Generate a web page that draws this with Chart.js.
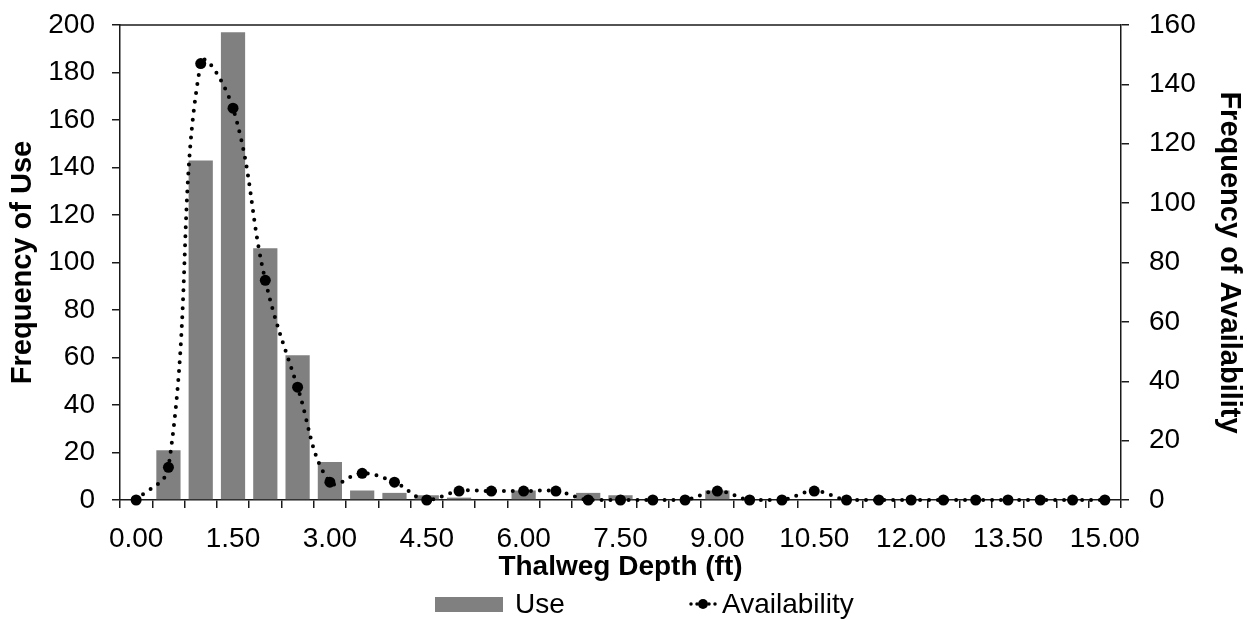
<!DOCTYPE html>
<html>
<head>
<meta charset="utf-8">
<script src="https://cdn.jsdelivr.net/npm/chart.js@4.4.1/dist/chart.umd.min.js"></script>
<style>
  html, body { margin: 0; padding: 0; background: #fff; }
</style>
</head>
<body>
<canvas id="depthChart" width="1252" height="619"></canvas>
<script>
const depthLabels = ['0.00', '0.50', '1.00', '1.50', '2.00', '2.50', '3.00', '3.50', '4.00', '4.50',
    '5.00', '5.50', '6.00', '6.50', '7.00', '7.50', '8.00', '8.50', '9.00', '9.50',
    '10.00', '10.50', '11.00', '11.50', '12.00', '12.50', '13.00', '13.50', '14.00', '14.50', '15.00'];

const useFreq = [0, 21, 143, 197, 106, 61, 16, 4, 3, 2,
    1, 0, 4, 0, 3, 2, 0, 0, 4, 0,
    0, 0, 0, 0, 0, 0, 0, 0, 0, 0, 0];

const availFreq = [0, 11, 147, 132, 74, 38, 6, 9, 6, 0,
    3, 3, 3, 3, 0, 0, 0, 0, 3, 0,
    0, 3, 0, 0, 0, 0, 0, 0, 0, 0, 0];

const useTicks = [0, 20, 40, 60, 80, 100, 120, 140, 160, 180, 200];
const availTicks = [0, 20, 40, 60, 80, 100, 120, 140, 160];

Chart.defaults.font.family = "'Liberation Sans', Arial, sans-serif";
Chart.defaults.color = '#000';

const axisColor = '#1a1a1a';

// top border of the plot area + hand drawn legend (line sample with a dot)
const frameAndLegend = {
    id: 'frameAndLegend',
    afterDraw(chart) {
        const { ctx, chartArea } = chart;
        ctx.save();
        ctx.strokeStyle = axisColor;
        ctx.lineWidth = 1.5;
        ctx.beginPath();
        ctx.moveTo(chartArea.left, chartArea.top);
        ctx.lineTo(chartArea.right, chartArea.top);
        ctx.stroke();

        const ly = 604;
        const useSet = chart.data.datasets[1];
        const availSet = chart.data.datasets[0];
        ctx.font = "28px 'Liberation Sans', Arial, sans-serif";
        ctx.textBaseline = 'middle';
        ctx.fillStyle = useSet.backgroundColor;
        ctx.fillRect(435, ly - 7, 68, 15);
        ctx.fillStyle = '#000';
        ctx.fillText(useSet.label, 515, ly + 1);

        ctx.strokeStyle = '#000';
        ctx.lineWidth = 3.5;
        ctx.lineCap = 'round';
        ctx.setLineDash([0, 6]);
        ctx.beginPath();
        ctx.moveTo(691, ly);
        ctx.lineTo(718, ly);
        ctx.stroke();
        ctx.setLineDash([]);
        ctx.beginPath();
        ctx.arc(703, ly, 5, 0, Math.PI * 2);
        ctx.fill();
        ctx.fillText(availSet.label, 722, ly + 1);
        ctx.restore();
    }
};

// fixed axis sizes so the plot area lands where the original has it
function fixWidth(w) {
    return (s) => {
        s.width = w;
        s.paddingTop = 0;
        s.paddingBottom = 0;
    };
}

const canvas = document.getElementById('depthChart');

const depthChart = new Chart(canvas, {
    type: 'bar',
    data: {
        labels: depthLabels,
        datasets: [{
            type: 'line',
            label: 'Availability',
            data: availFreq,
            yAxisID: 'yAvail',
            borderColor: '#000',
            borderWidth: 4,
            borderDash: [0, 9],
            borderCapStyle: 'round',
            tension: 0.4,
            pointRadius: 5.5,
            pointBackgroundColor: '#000',
            pointBorderWidth: 0,
            clip: false,
            order: 0
        }, {
            label: 'Use',
            data: useFreq,
            yAxisID: 'yUse',
            backgroundColor: '#808080',
            categoryPercentage: 1,
            barPercentage: 0.75,
            order: 1
        }]
    },
    options: {
        responsive: false,
        animation: false,
        layout: { padding: { top: 25, bottom: 30, left: 0, right: 0 } },
        plugins: {
            legend: { display: false },
            tooltip: { enabled: false }
        },
        scales: {
            x: {
                grid: {
                    offset: true,
                    drawOnChartArea: false,
                    tickLength: 8,
                    color: axisColor,
                    lineWidth: 1.5
                },
                border: { color: axisColor, width: 1.5 },
                ticks: {
                    autoSkip: false,
                    maxRotation: 0,
                    padding: 14,
                    font: { size: 28 },
                    callback: (v, i) => (i % 3 === 0 ? depthLabels[i] : '')
                },
                title: {
                    display: true,
                    text: 'Thalweg Depth (ft)',
                    font: { size: 28, weight: 'bold' },
                    padding: { top: 0, bottom: 5 }
                },
                afterFit: (s) => { s.height = 89; }
            },
            yUse: {
                position: 'left',
                min: 0,
                max: 200,
                afterBuildTicks: (s) => { s.ticks = useTicks.map(v => ({ value: v })); },
                ticks: { padding: 17, font: { size: 28 } },
                grid: { drawOnChartArea: false, tickLength: 8, color: axisColor, lineWidth: 1.5 },
                border: { color: axisColor, width: 1.5 },
                title: {
                    display: true,
                    text: 'Frequency of Use',
                    font: { size: 29, weight: 'bold' },
                    padding: { top: 6, bottom: 0 }
                },
                afterFit: fixWidth(120)
            },
            yAvail: {
                position: 'right',
                min: 0,
                max: 160,
                afterBuildTicks: (s) => { s.ticks = availTicks.map(v => ({ value: v })); },
                ticks: { padding: 20, font: { size: 28 } },
                grid: { drawOnChartArea: false, tickLength: 8, color: axisColor, lineWidth: 1.5 },
                border: { color: axisColor, width: 1.5 },
                title: {
                    display: true,
                    text: 'Frequency of Availability',
                    font: { size: 29, weight: 'bold' },
                    padding: { top: 6, bottom: 0 }
                },
                afterFit: fixWidth(131)
            }
        }
    },
    plugins: [frameAndLegend]
});
</script>
</body>
</html>
